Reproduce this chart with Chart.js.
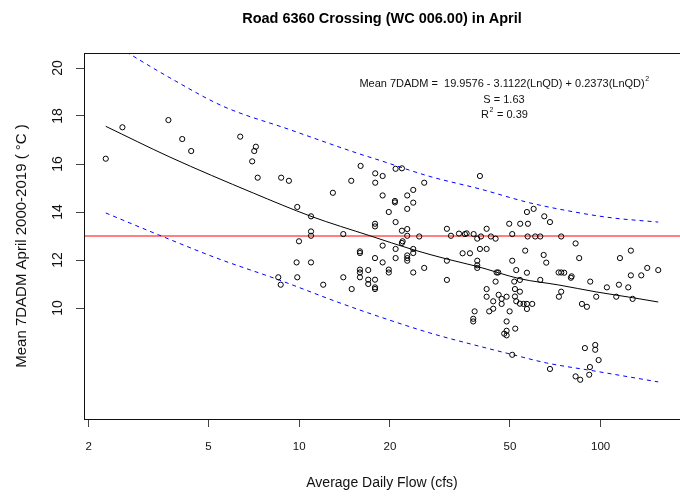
<!DOCTYPE html>
<html>
<head>
<meta charset="utf-8">
<title>Road 6360 Crossing (WC 006.00) in April</title>
<script src="https://cdn.jsdelivr.net/npm/chart.js@4.4.1/dist/chart.umd.min.js"></script>
<style>
  html, body { margin: 0; padding: 0; background: #fff; }
  #wrap { width: 680px; height: 496px; position: relative; }
</style>
</head>
<body>
<div id="wrap"><canvas id="chart"></canvas></div>
<script>
'use strict';

/* ----------------------------------------------------------
   DATA
   ---------------------------------------------------------- */

// average daily flow (cfs) and mean 7DADM (°C), one entry per observation
var FLOW = [
  2.28, 2.59, 3.68, 4.09, 4.38, 6.37, 7.18, 7.09, 6.98, 7.28,
  8.71, 9.24, 12.93, 9.85, 10.94, 15.98, 17.87, 18.91, 17.87, 18.91,
  19.82, 17.84, 17.84, 14.88, 10.94, 10.94, 14.0, 9.98, 18.91, 15.9,
  15.9, 9.80, 10.94, 17.84, 18.91, 15.9, 15.9, 16.94, 19.82, 19.82,
  8.52, 9.85, 14.0, 15.9, 16.94, 17.84, 8.68, 12.01, 16.94, 17.84,
  17.84, 14.93, 20.88, 21.91, 39.77, 25.98, 23.89, 22.82, 20.77, 20.77,
  23.89, 22.82, 20.88, 21.91, 22.82, 25.01, 30.9, 31.87, 33.88, 35.46,
  35.93, 37.90, 40.08, 41.86, 43.25, 49.74, 54.10, 57.39, 50.90, 56.95,
  59.94, 65.02, 67.91, 57.26, 60.67, 63.06, 74.0, 22.82, 22.03, 21.91,
  20.88, 23.89, 23.89, 22.82, 22.82, 22.82, 20.88, 23.89, 25.98, 30.9,
  30.9, 34.84, 36.85, 38.96, 38.96, 38.96, 39.77, 41.86, 38.96, 44.83,
  50.90, 52.48, 56.95, 56.2, 64.72, 66.01, 45.19, 45.74, 44.83, 41.86,
  41.86, 45.88, 46.94, 48.76, 44.02, 46.94, 42.69, 44.02, 38.19, 37.79,
  37.79, 51.69, 53.98, 63.06, 53.98, 51.97, 51.97, 52.48, 53.98, 55.52,
  56.95, 59.3, 56.95, 49.9, 48.76, 52.09, 47.88, 48.76, 48.76, 50.90,
  67.91, 82.6, 85.56, 88.69, 95.96, 95.96, 98.49, 92.15, 91.66, 72.55,
  74.0, 75.7, 80.13, 79.7, 92.36, 74.0, 72.7, 82.6, 84.9, 86.7,
  90.05, 96.7, 104.9, 112.7, 115.0, 115.9, 123.5, 126.0, 126.0, 127.7,
  136.4, 142.8, 155.3
];
var TEMP = [
  16.22, 17.53, 17.83, 17.04, 16.54, 17.14, 16.72, 16.54, 16.11, 15.43,
  15.43, 15.30, 14.80, 14.21, 13.82, 15.92, 15.61, 15.50, 15.22, 14.69,
  14.00, 13.51, 13.40, 15.30, 13.19, 13.01, 13.08, 12.78, 12.60, 12.36,
  12.29, 11.90, 11.90, 12.08, 11.90, 11.60, 11.48, 11.58, 11.60, 11.48,
  11.28, 11.28, 11.28, 11.28, 11.18, 11.18, 10.97, 10.97, 11.00, 10.86,
  10.79, 10.79, 15.80, 15.82, 15.50, 15.22, 14.92, 14.69, 14.46, 14.40,
  14.39, 14.13, 13.58, 13.22, 13.29, 12.98, 13.30, 13.01, 13.10, 13.08,
  13.11, 13.08, 12.98, 13.30, 12.98, 13.51, 13.51, 13.51, 13.08, 14.00,
  14.13, 13.82, 13.58, 12.98, 12.98, 12.98, 12.98, 13.01, 12.78, 12.71,
  12.46, 12.46, 12.29, 12.19, 12.08, 11.97, 12.08, 11.48, 11.67, 11.97,
  11.17, 12.28, 12.28, 11.97, 11.78, 11.67, 12.46, 12.46, 12.89, 12.89,
  11.97, 11.58, 11.47, 12.39, 12.21, 11.89, 11.48, 11.48, 11.10, 10.79,
  10.47, 10.55, 10.38, 10.47, 10.28, 10.17, 9.86, 9.97, 9.86, 9.55,
  9.44, 11.10, 11.17, 11.17, 10.68, 10.79, 10.48, 10.28, 10.18, 10.17,
  10.17, 10.17, 9.96, 9.86, 9.44, 9.14, 8.93, 8.86, 9.05, 8.05,
  7.46, 7.15, 7.01, 8.33, 8.46, 8.26, 7.83, 7.54, 7.22, 11.48,
  11.48, 11.47, 11.32, 11.26, 11.10, 10.68, 10.47, 12.69, 12.08, 10.17,
  10.05, 10.47, 10.86, 10.47, 10.97, 12.08, 10.86, 11.36, 12.39, 10.38,
  11.36, 11.67, 11.58
];

// fitted curve
var FIT_Q = [2.28, 3.72, 7.04, 10.94, 17.16, 23.87, 30.9, 38.96, 53.98, 72.55, 96.7, 127.7, 155.3];
var FIT_T = [17.57, 16.29, 14.79, 13.82, 13.01, 12.43, 12.04, 11.73, 11.22, 10.96, 10.67, 10.43, 10.25];

// upper / lower dashed bands
var UPPER_Q = [2.28, 3.82, 5.60, 9.31, 15.50, 18.52, 27.14, 39.77, 58.27, 85.37, 110.1, 155.3];
var UPPER_T = [21.18, 19.51, 18.40, 17.43, 16.46, 16.15, 15.48, 14.96, 14.38, 13.96, 13.75, 13.58];
var LOWER_Q = [2.28, 3.41, 5.32, 8.52, 13.65, 18.52, 27.14, 39.77, 51.29, 66.2, 96.98, 155.3];
var LOWER_T = [13.96, 13.05, 12.08, 11.18, 10.21, 9.63, 8.96, 8.40, 8.05, 7.71, 7.36, 6.92];

var THRESHOLD = 13;

var X_TICKS = [2, 5, 10, 20, 50, 100];
var Y_TICKS = [10, 12, 14, 16, 18, 20];
var X_MIN = 1.931, X_MAX = 183.4;
var Y_MIN = 5.375, Y_MAX = 20.625;

var EQ_MAIN = 'Mean 7DADM =  19.9576 - 3.1122(LnQD) + 0.2373(LnQD)';
var EQ_S = 'S = 1.63';
var EQ_R2 = ' = 0.39';

/* ----------------------------------------------------------
   HELPERS
   ---------------------------------------------------------- */

function pary(xs, ys) {
  return xs.map(function (x, i) { return { x: x, y: ys[i] }; });
}

var FONT = '"Liberation Sans", Arial, sans-serif';

// text with an optional superscript, centred on cx
function tekstZIndeksem(ctx, przed, indeks, po, cx, cy) {
  ctx.font = '11px ' + FONT;
  var w1 = ctx.measureText(przed).width;
  var w3 = ctx.measureText(po).width;
  ctx.font = '7px ' + FONT;
  var w2 = ctx.measureText(indeks).width;
  var x = cx - (w1 + w2 + w3) / 2;
  ctx.textAlign = 'left';
  ctx.textBaseline = 'middle';
  ctx.font = '11px ' + FONT;
  ctx.fillText(przed, x, cy);
  ctx.font = '7px ' + FONT;
  ctx.fillText(indeks, x + w1 + 0.5, cy - 5);
  ctx.font = '11px ' + FONT;
  ctx.fillText(po, x + w1 + w2 + 1, cy);
}

// no extra room for tick labels: the plot box is fixed
function bezPaddingu(s) {
  s.paddingLeft = 0;
  s.paddingRight = 0;
  s.paddingTop = 0;
  s.paddingBottom = 0;
}

var ramka = {
  id: 'ramka',
  afterDatasetsDraw: function (chart) {
    var a = chart.chartArea;
    var ctx = chart.ctx;
    ctx.save();
    ctx.strokeStyle = '#111';
    ctx.lineWidth = 1;
    ctx.strokeRect(Math.round(a.left) + 0.5, Math.round(a.top) + 0.5,
      Math.round(a.right - a.left), Math.round(a.bottom - a.top));
    ctx.restore();
  },
  afterDraw: function (chart) {
    var ctx = chart.ctx;
    var a = chart.chartArea;
    ctx.save();
    ctx.fillStyle = '#111';

    // y axis title
    ctx.translate(22, (a.top + a.bottom) / 2 + 10);
    ctx.rotate(-Math.PI / 2);
    ctx.font = '15px ' + FONT;
    ctx.textAlign = 'center';
    ctx.textBaseline = 'middle';
    ctx.fillText('Mean 7DADM April 2000-2019 ( \u00B0C )', 0, 0);
    ctx.setTransform(1, 0, 0, 1, 0, 0);

    // regression equation
    var cx = 504;
    tekstZIndeksem(ctx, EQ_MAIN, '2', '', cx, 84);
    ctx.font = '11px ' + FONT;
    ctx.textAlign = 'center';
    ctx.fillText(EQ_S, cx, 100);
    tekstZIndeksem(ctx, 'R', '2', EQ_R2, cx, 115);
    ctx.restore();
  }
};

/* ----------------------------------------------------------
   CHART
   ---------------------------------------------------------- */

Chart.defaults.font.family = FONT;
Chart.defaults.color = '#111';

new Chart(document.getElementById('chart'), {
  type: 'scatter',
  data: {
    datasets: [
      {
        data: pary(FLOW, TEMP),
        pointStyle: 'circle',
        pointRadius: 2.6,
        borderWidth: 1,
        borderColor: '#000',
        backgroundColor: 'rgba(0,0,0,0)'
      },
      {
        data: pary(FIT_Q, FIT_T),
        showLine: true,
        pointRadius: 0,
        borderColor: '#000',
        borderWidth: 1,
        cubicInterpolationMode: 'monotone'
      },
      {
        data: pary(UPPER_Q, UPPER_T),
        showLine: true,
        pointRadius: 0,
        borderColor: '#0000ff',
        borderWidth: 1,
        borderDash: [4, 4],
        cubicInterpolationMode: 'monotone'
      },
      {
        data: pary(LOWER_Q, LOWER_T),
        showLine: true,
        pointRadius: 0,
        borderColor: '#0000ff',
        borderWidth: 1,
        borderDash: [4, 4],
        cubicInterpolationMode: 'monotone'
      },
      {
        data: [{ x: X_MIN, y: THRESHOLD }, { x: X_MAX, y: THRESHOLD }],
        showLine: true,
        pointRadius: 0,
        borderColor: '#ff0000',
        borderWidth: 1
      }
    ]
  },
  options: {
    responsive: true,
    maintainAspectRatio: false,
    animation: false,
    events: [],
    layout: { padding: 0, autoPadding: false },
    plugins: {
      legend: { display: false },
      tooltip: { enabled: false },
      title: {
        display: true,
        fullSize: false,
        text: 'Road 6360 Crossing (WC 006.00) in April',
        color: '#000',
        font: { size: 14.5, weight: 'bold' },
        padding: { top: 10, bottom: 25.6 }
      }
    },
    scales: {
      x: {
        type: 'logarithmic',
        min: X_MIN,
        max: X_MAX,
        afterBuildTicks: function (s) { s.ticks = X_TICKS.map(function (v) { return { value: v }; }); },
        afterFit: function (s) { s.height = 77; bezPaddingu(s); },
        border: { display: false },
        grid: { display: true, drawOnChartArea: false, drawTicks: true, tickLength: 8, tickColor: '#444' },
        ticks: {
          autoSkip: false,
          maxRotation: 0,
          padding: 13,
          font: { size: 11.5 },
          color: '#111',
          callback: function (v) { return String(v); }
        },
        title: {
          display: true,
          text: 'Average Daily Flow (cfs)',
          font: { size: 14 },
          color: '#111',
          padding: { top: 0, bottom: 4.6 }
        }
      },
      y: {
        type: 'linear',
        min: Y_MIN,
        max: Y_MAX,
        afterBuildTicks: function (s) { s.ticks = Y_TICKS.map(function (v) { return { value: v }; }); },
        afterFit: function (s) { s.width = 84; bezPaddingu(s); },
        border: { display: false },
        grid: { display: true, drawOnChartArea: false, drawTicks: true, tickLength: 8, tickColor: '#444' },
        ticks: {
          autoSkip: false,
          minRotation: 90,
          maxRotation: 90,
          crossAlign: 'center',
          padding: 10,
          font: { size: 14 },
          color: '#111'
        }
      }
    }
  },
  plugins: [ramka]
});
</script>
</body>
</html>
